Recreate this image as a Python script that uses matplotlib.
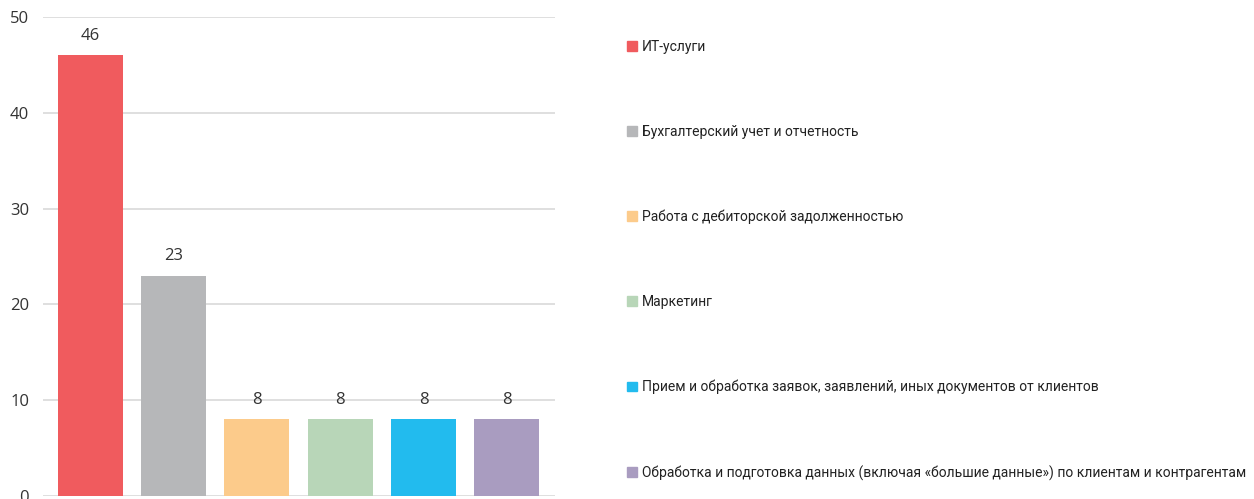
import matplotlib
matplotlib.use("Agg")
import matplotlib.pyplot as plt
from matplotlib import font_manager

categories = [
    "ИТ-услуги",
    "Бухгалтерский учет и отчетность",
    "Работа с дебиторской задолженностью",
    "Маркетинг",
    "Прием и обработка заявок, заявлений, иных документов от клиентов",
    "Обработка и подготовка данных (включая «большие данные») по клиентам и контрагентам",
]
values = [46, 23, 8, 8, 8, 8]
colors = ["#F05B5E", "#B6B7B9", "#FCCB8B", "#B8D6B8", "#22BBEE", "#A99CC0"]
yticks = [0, 10, 20, 30, 40, 50]

names = {f.name for f in font_manager.fontManager.ttflist}
narrow = "Liberation Sans Narrow" if "Liberation Sans Narrow" in names else "Roboto"

fig = plt.figure(figsize=(12.54, 4.99), dpi=100)
ax = fig.add_axes([43/1254, 3/499, 512/1254, 479/499])
x = list(range(len(values)))
bars = ax.bar(x, values, width=0.78, color=colors, zorder=3, label=None)
ax.set_xlim(-0.57, 5.58)
ax.set_ylim(0, 50)
ax.set_yticks(yticks)
ax.set_yticklabels([str(t) for t in yticks], fontsize=12, color="#333333", family="Open Sans")
ax.tick_params(axis="y", length=0, pad=10)
ax.set_xticks([])
ax.grid(axis="y", color="#D9D9D9", linewidth=1.2, zorder=0)
for s in ax.spines.values():
    s.set_visible(False)
for xi, v in zip(x, values):
    ax.annotate(str(v), (xi, v), xytext=(0, 8.5), textcoords="offset points",
                ha="center", va="bottom", fontsize=12, color="#333333", family="Open Sans")

handles = [plt.Rectangle((0, 0), 1, 1, color=c) for c in colors]
leg = fig.legend(handles, categories, loc="upper left", bbox_to_anchor=(627/1254, 1 - 40/499),
                 frameon=False, prop={"family": narrow, "size": 10},
                 handlelength=0.72, handleheight=0.72, handletextpad=0.35,
                 labelspacing=5.1, borderpad=0, borderaxespad=0)
for t in leg.get_texts():
    t.set_color("#222222")

fig.savefig("out.png", dpi=100)
